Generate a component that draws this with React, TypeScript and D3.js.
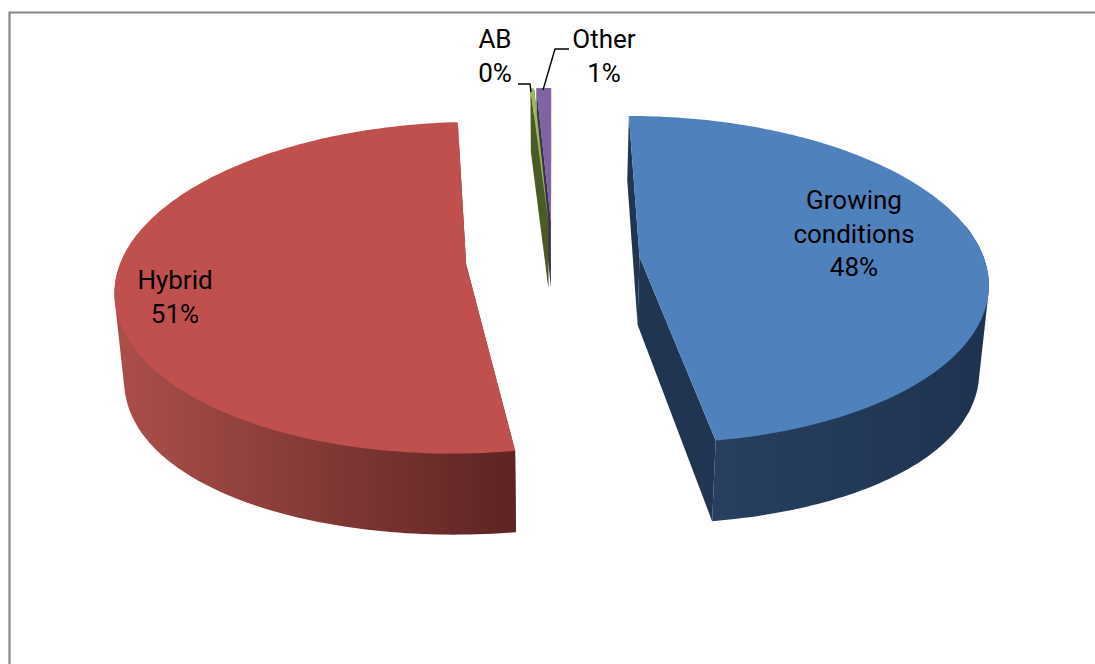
import React from "react";
import * as d3 from "d3";

const categories = ["Growing conditions", "Hybrid", "AB", "Other"];
const seriesValues = [47.5, 51.5, 0.2, 0.8];
const percentLabels = ["48%", "51%", "0%", "1%"];

const topColors = ["#4F81BD", "#C0504D", "#9BBB59", "#8064A2"];
const faceColors = ["#1F3552", "#5E2624", "#4A5B25", "#3D2F53"];
const arcStops: [string, string][] = [["#27405F", "#1E3350"], ["#AA4E4A", "#5C2422"], ["#4A5B25", "#4A5B25"], ["#3D2F53", "#3D2F53"]];

const W = 1095, H = 664;
const vx = 553, vy = -895, A = 1155, D = 2470, R = 345, EXPLODE = 87;
const BOTTOM_X = 0.978;
const RIM_EXTRA = 17;

const depthAt = (s: number) => 68 + (s - 1) * (s > 1 ? 78 : 30);

type P = [number, number];
function top(X: number, Z: number): P {
  const s = D / (D - Z);
  return [vx + X * s, vy + A * s];
}
function bottom(X: number, Z: number, extra = 0): P {
  const s = D / (D - Z);
  return [vx + X * s * BOTTOM_X, vy + A * s + depthAt(s) + extra];
}

const pieGen = d3.pie<number>().sort(null).startAngle(0).endAngle(2 * Math.PI);
const arcs = pieGen(seriesValues);
const line = d3.line<P>();

interface Geo {
  i: number; topPath: string; arcSide: string; faceA: string; faceB: string; x0: number; x1: number;
}

const geos: Geo[] = arcs.map((a, i) => {
  const mid = (a.startAngle + a.endAngle) / 2;
  const ox = EXPLODE * Math.sin(mid), oz = -EXPLODE * Math.cos(mid);
  const steps = Math.max(3, Math.ceil((a.endAngle - a.startAngle) / 0.02));
  const angles = d3.range(steps + 1).map(k => a.startAngle + (a.endAngle - a.startAngle) * k / steps);
  const rim = angles.map(t => [ox + R * Math.sin(t), oz - R * Math.cos(t)] as P);
  const rimTop = rim.map(p => top(p[0], p[1]));
  const rimBot = rim.map((p, k) => bottom(p[0], p[1], RIM_EXTRA * Math.sin(angles[k]) ** 2));
  const at = top(ox, oz), ab = bottom(ox, oz);
  const topPath = line([at, ...rimTop])! + "Z";
  // Only the near part of the rim shows; its hull gives the straight silhouette at the sides.
  const nearIdx = d3.range(angles.length).filter(k => Math.cos(angles[k]) < 0.2);
  const nearPts = nearIdx.flatMap(k => [rimTop[k], rimBot[k]]);
  const hull = nearPts.length >= 3 ? (d3.polygonHull(nearPts) as P[]) : null;
  const arcSide = hull ? line(hull)! + "Z" : "";
  const faceA = line([at, rimTop[0], rimBot[0], ab])! + "Z";
  const faceB = line([at, rimTop[rimTop.length - 1], rimBot[rimBot.length - 1], ab])! + "Z";
  const xs = nearIdx.map(k => rimBot[k][0]);
  return { i, topPath, arcSide, faceA, faceB, x0: d3.min(xs) ?? 0, x1: d3.max(xs) ?? 1 };
});

// Far slivers: the AB face sits over the Other face, and the Other top is in front of both.
const order = [3, 2, 1, 0];
const font = "Roboto, sans-serif";

const labelLines: { lines: string[]; pct: number; x: number; y: number }[] = [
  { lines: ["Growing", "conditions"], pct: 0, x: 854, y: 209 },
  { lines: ["Hybrid"], pct: 1, x: 175, y: 289 },
  { lines: ["AB"], pct: 2, x: 495, y: 48 },
  { lines: ["Other"], pct: 3, x: 604, y: 48 },
];
const LINE_STEP = 33.5;

const leaderAB: P[] = [[518, 84], [530, 84], [531, 92]];
const leaderOther: P[] = [[569, 49], [555, 49], [543, 90]];

export default function App() {
  return (
    <svg width={W} height={H} viewBox={`0 0 ${W} ${H}`} style={{ position: "absolute", left: 0, top: 0, background: "#fff" }}>
      <defs>
        {geos.map(g => {
          const [c0, c1] = arcStops[g.i];
          return (
            <linearGradient key={g.i} id={`side${g.i}`} gradientUnits="userSpaceOnUse" x1={g.x0} x2={g.x1} y1={0} y2={0}>
              <stop offset="0" stopColor={c0} />
              <stop offset="1" stopColor={c1} />
            </linearGradient>
          );
        })}
      </defs>
      <rect x={0} y={0} width={W} height={H} fill="#fff" />
      <path d={`M9.5 ${H}V12.5H${W}`} fill="none" stroke="#868686" strokeWidth={2.2} />
      {order.map(i => {
        const g = geos[i];
        return (
          <g key={categories[i]}>
            <path d={g.faceA} fill={faceColors[i]} />
            <path d={g.faceB} fill={faceColors[i]} />
            {g.arcSide && <path d={g.arcSide} fill={`url(#side${i})`} />}
            <path d={g.topPath} fill={topColors[i]} />
          </g>
        );
      })}
      <path d={geos[3].topPath} fill={topColors[3]} />
      <path d={line(leaderAB)!} fill="none" stroke="#000" strokeWidth={1.4} />
      <path d={line(leaderOther)!} fill="none" stroke="#000" strokeWidth={1.4} />
      {labelLines.map(l => (
        <text key={l.pct} textAnchor="middle" fontFamily={font} fontSize={26} fill="#000">
          {[...l.lines, percentLabels[l.pct]].map((t, k) => (
            <tspan key={k} x={l.x} y={l.y + k * LINE_STEP}>{t}</tspan>
          ))}
        </text>
      ))}
    </svg>
  );
}
